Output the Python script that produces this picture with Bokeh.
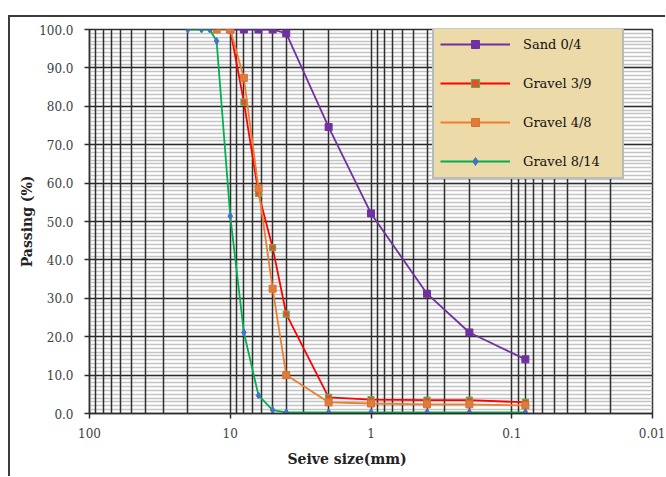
from bokeh.plotting import figure
from bokeh.models import (Range1d, FixedTicker, NumeralTickFormatter, Legend, LegendItem, Title,
                          CustomJSTickFormatter)
from bokeh.embed import file_html
from bokeh.resources import INLINE

# ---- data ----
sand_sizes = [10, 8, 6.3, 5, 4, 2, 1, 0.4, 0.2, 0.08]
sand_pass = [100, 100, 100, 100, 99.0, 74.6, 52.1, 31.2, 21.1, 14.1]

g39_sizes = [10, 8, 6.3, 5, 4, 2, 1, 0.4, 0.2, 0.08]
g39_pass = [100, 81.1, 57.3, 43.2, 25.9, 4.2, 3.6, 3.5, 3.5, 2.9]

g48_sizes = [12.5, 10, 8, 6.3, 5, 4, 2, 1, 0.4, 0.2, 0.08]
g48_pass = [100, 100, 87.4, 58.6, 32.5, 10.0, 2.9, 2.6, 2.4, 2.4, 2.1]

g814_sizes = [20, 16, 14, 12.5, 10, 8, 6.3, 5, 4, 2, 1, 0.4, 0.2, 0.08]
g814_pass = [100, 100, 100, 97.0, 51.4, 21.1, 4.7, 0.9, 0.3, 0.3, 0.3, 0.3, 0.3, 0.3]

series_names = ["Sand 0/4", "Gravel 3/9", "Gravel 4/8", "Gravel 8/14"]

x_ticks = [100, 10, 1, 0.1, 0.01]
x_tick_labels = ["100", "10", "1", "0.1", "0.01"]
y_ticks = list(range(0, 101, 10))

x_title = "Seive size(mm)"
y_title = "Passing (%)"

FONT = "DejaVu Serif"
DARK = "#2e2e2e"

p = figure(x_axis_type="log", x_range=Range1d(100, 0.01), y_range=Range1d(0, 100),
           frame_width=563, frame_height=384,
           min_border_left=79, min_border_right=13, min_border_top=12, min_border_bottom=63,
           output_backend="svg", toolbar_location=None)
p.styles = {"border-top": "2px solid #3c3c3c", "border-left": "2px solid #3c3c3c",
            "margin-top": "15px", "margin-left": "8px"}

# ticks
minor_x = [m * 10.0 ** e for e in range(-2, 2) for m in range(2, 10)]
p.xaxis.ticker = FixedTicker(ticks=x_ticks, minor_ticks=minor_x)
p.xaxis.formatter = CustomJSTickFormatter(
    args=dict(xvals=x_ticks, xlabs=x_tick_labels),
    code="""
    for (let i = 0; i < xvals.length; i++) {
        if (Math.abs(Math.log10(xvals[i]) - Math.log10(tick)) < 1e-6) { return xlabs[i]; }
    }
    return "";
    """)
p.yaxis.ticker = FixedTicker(ticks=y_ticks, minor_ticks=list(range(0, 101)))
p.yaxis.formatter = NumeralTickFormatter(format="0.0")

for ax in (p.xaxis, p.yaxis):
    ax.major_tick_out = 5
    ax.major_tick_in = 0
    ax.minor_tick_out = 0
    ax.minor_tick_in = 0
    ax.axis_line_color = DARK
    ax.axis_line_width = 1.5
    ax.major_tick_line_color = DARK
    ax.major_tick_line_width = 1.5
    ax.major_label_text_font = FONT
    ax.major_label_text_font_size = "12px"
    ax.major_label_text_color = "#404040"
p.yaxis.major_label_standoff = 11
p.xaxis.major_label_standoff = 9

p.yaxis.axis_label = y_title
p.yaxis.axis_label_text_font = FONT
p.yaxis.axis_label_text_font_size = "14px"
p.yaxis.axis_label_text_font_style = "bold"
p.yaxis.axis_label_text_color = "#222222"
p.yaxis.axis_label_standoff = 1

xt = Title(text=x_title, align="left", offset=198, text_font=FONT, text_font_size="14px",
           text_font_style="bold", text_color="#222222", standoff=16)
p.add_layout(xt, "below")

# grid
xg = p.xgrid[0]
yg = p.ygrid[0]
xg.grid_line_color = DARK
xg.grid_line_width = 1.5
xg.minor_grid_line_color = DARK
xg.minor_grid_line_width = 1.5
yg.grid_line_color = DARK
yg.grid_line_width = 1.5
yg.minor_grid_line_color = "#c4c4c4"
yg.minor_grid_line_width = 1.5
others = [r for r in p.center if r is not xg and r is not yg]
p.center = [yg, xg] + others

p.outline_line_color = DARK
p.outline_line_width = 1.5
p.background_fill_color = "white"
p.border_fill_color = "white"

# series
items = []
r1 = p.line(sand_sizes, sand_pass, line_color="#7030a0", line_width=1.8)
m1 = p.scatter(sand_sizes, sand_pass, marker="square", size=7, fill_color="#7030a0", line_color="#7030a0")
items.append(LegendItem(label=series_names[0], renderers=[r1, m1]))

r2 = p.line(g39_sizes, g39_pass, line_color="#ff0000", line_width=1.8)
m2 = p.scatter(g39_sizes, g39_pass, marker="square", size=6, fill_color="#e0502a", line_color="#6aa84f", line_width=1.2)
items.append(LegendItem(label=series_names[1], renderers=[r2, m2]))

r3 = p.line(g48_sizes, g48_pass, line_color="#ed7d31", line_width=1.8)
m3 = p.scatter(g48_sizes, g48_pass, marker="square", size=7, fill_color="#e07b39", line_color="#d8732f")
items.append(LegendItem(label=series_names[2], renderers=[r3, m3]))

r4 = p.line(g814_sizes, g814_pass, line_color="#00b050", line_width=1.8)
m4 = p.scatter(g814_sizes, g814_pass, marker="diamond", size=7, fill_color="#4472c4", line_color="#4472c4")
items.append(LegendItem(label=series_names[3], renderers=[r4, m4]))

legend = Legend(items=items, location=(343, 234), orientation="vertical",
                padding=6, margin=0, spacing=19,
                glyph_width=70, glyph_height=20, label_height=20, label_width=93,
                label_standoff=13,
                background_fill_color="#ecdaa8", background_fill_alpha=1.0,
                border_line_color="#7fa0d4", border_line_width=2.5,
                label_text_font=FONT, label_text_font_size="13px", label_text_color="#111111")
p.add_layout(legend)

open("out.html", "w").write(file_html(p, INLINE))
